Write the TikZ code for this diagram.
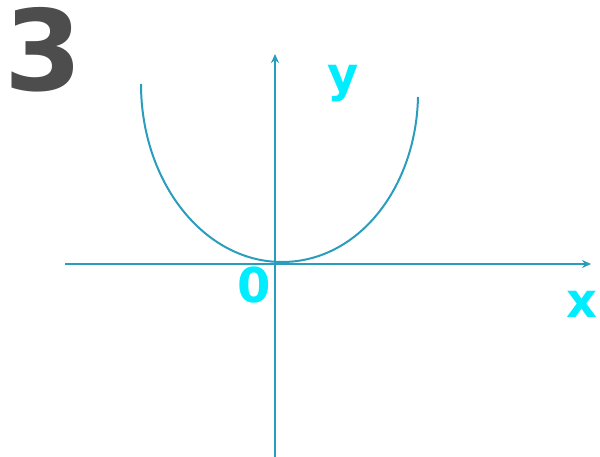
\documentclass[tikz,border=0pt]{standalone}
\usepackage{fontspec}
\setmainfont{DejaVu Sans}
\usepackage{xcolor}
\usetikzlibrary{arrows.meta}
\definecolor{axiscol}{RGB}{42,157,189}
\definecolor{labcol}{RGB}{0,236,255}
\definecolor{numcol}{RGB}{77,77,77}

\begin{document}
\begin{tikzpicture}[x=1pt,y=-1pt,
  axis/.style={draw=axiscol,line width=2pt,-{Stealth[length=9pt,width=8pt]}},
  curve/.style={draw=axiscol,line width=2pt},
  lab/.style={text=labcol,inner sep=0pt,font=\fontsize{48}{48}\selectfont\bfseries},
  num/.style={text=numcol,inner sep=0pt,font=\fontsize{112}{112}\selectfont\bfseries}]
\useasboundingbox (0,0) rectangle (600,457);
% axes
\coordinate (xs) at (65,264);
\coordinate (xe) at (591,264);
\coordinate (ys) at (275,457);
\coordinate (ye) at (275,54);
\draw[axis] (xs)--(xe);
\draw[axis] (ys)--(ye);
% labels
\node[num] (three) at (43,50) {3};
\node[lab] (ylab) at (343,84) {y};
\node[lab] (xlab) at (582,304) {x};
\node[lab] (orig) at (254,285) {0};
% graph
\coordinate (cl) at (141,84);
\coordinate (cv) at (282,262);
\coordinate (cr) at (418,97);
\draw[curve] (cl) .. controls (141,182) and (204,262) .. (cv)
  .. controls (358,262) and (416,188) .. (cr);
\end{tikzpicture}
\end{document}
